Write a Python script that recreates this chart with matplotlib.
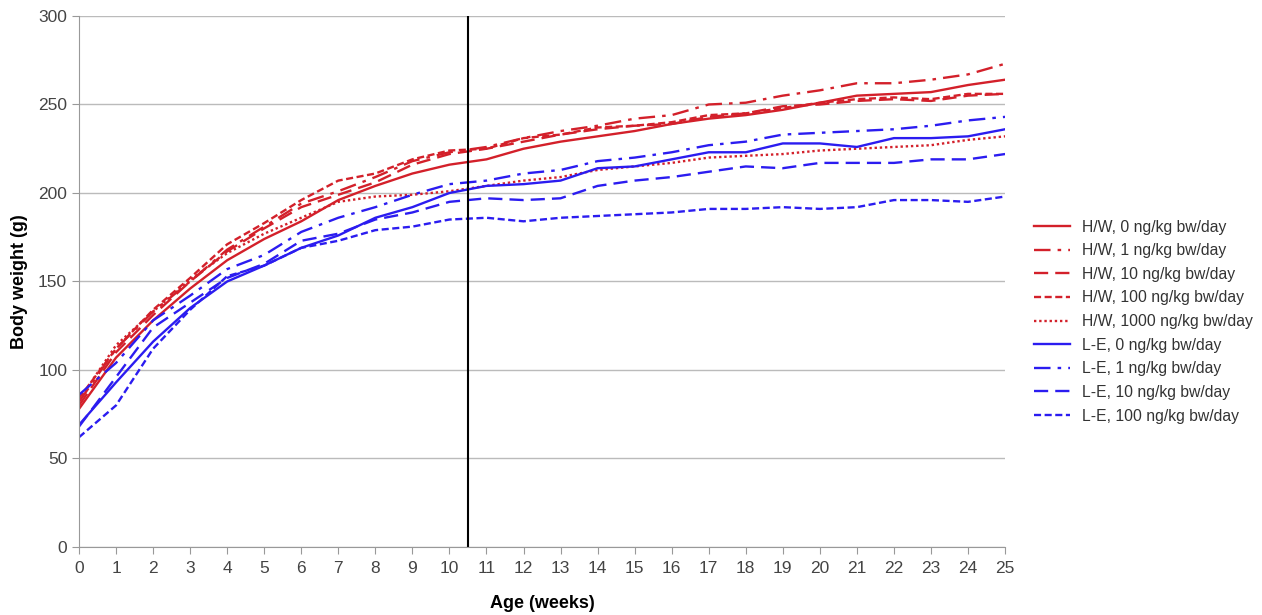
import numpy as np
import matplotlib
matplotlib.use('Agg')
from matplotlib import pyplot as plt

plt.rcParams['font.family'] = ['Liberation Sans', 'DejaVu Sans']

weeks = np.arange(0, 26)

# body weights (g)
hw_0 = [78, 107, 128, 146, 162, 174, 184, 196, 204, 211, 216, 219, 225, 229, 232, 235,
        239, 242, 244, 247, 251, 255, 256, 257, 261, 264]
hw_1 = [82, 112, 133, 150, 168, 181, 194, 201, 209, 218, 223, 226, 231, 235, 238, 242,
        244, 250, 251, 255, 258, 262, 262, 264, 267, 273]
hw_10 = [80, 110, 131, 150, 167, 180, 192, 199, 206, 216, 222, 225, 229, 233, 236, 238,
         239, 243, 245, 249, 250, 252, 253, 252, 255, 256]
hw_100 = [84, 112, 134, 152, 171, 183, 196, 207, 211, 219, 224, 225, 231, 233, 237, 238,
          240, 244, 245, 248, 251, 253, 254, 253, 256, 256]
hw_1000 = [83, 114, 133, 151, 166, 177, 186, 195, 198, 199, 201, 204, 207, 209, 213, 215,
           217, 220, 221, 222, 224, 225, 226, 227, 230, 232]
le_0 = [69, 93, 116, 135, 150, 159, 169, 176, 186, 192, 200, 204, 205, 207, 214, 215,
        219, 223, 223, 228, 228, 226, 231, 231, 232, 236]
le_1 = [86, 104, 128, 142, 157, 165, 178, 186, 192, 199, 205, 207, 211, 213, 218, 220,
        223, 227, 229, 233, 234, 235, 236, 238, 241, 243]
le_10 = [68, 96, 124, 138, 152, 160, 173, 177, 185, 189, 195, 197, 196, 197, 204, 207,
         209, 212, 215, 214, 217, 217, 217, 219, 219, 222]
le_100 = [62, 80, 112, 134, 153, 159, 169, 173, 179, 181, 185, 186, 184, 186, 187, 188,
          189, 191, 191, 192, 191, 192, 196, 196, 195, 198]

split_week = 10.5

red = '#d3202a'
blue = '#2b1cf0'

series = [
    ('H/W, 0 ng/kg bw/day', hw_0, red, '-'),
    ('H/W, 1 ng/kg bw/day', hw_1, red, (0, (7, 3, 1.5, 3))),
    ('H/W, 10 ng/kg bw/day', hw_10, red, (0, (6, 3))),
    ('H/W, 100 ng/kg bw/day', hw_100, red, (0, (3, 1.5))),
    ('H/W, 1000 ng/kg bw/day', hw_1000, red, (0, (1, 1.2))),
    ('L-E, 0 ng/kg bw/day', le_0, blue, '-'),
    ('L-E, 1 ng/kg bw/day', le_1, blue, (0, (7, 3, 1.5, 3))),
    ('L-E, 10 ng/kg bw/day', le_10, blue, (0, (6, 3))),
    ('L-E, 100 ng/kg bw/day', le_100, blue, (0, (3, 1.5))),
]

fig = plt.figure(figsize=(12.62, 6.15), dpi=100)
ax = fig.add_axes([0.0626, 0.1106, 0.7338, 0.8634])

for label, vals, col, ls in series:
    ax.plot(weeks, vals, color=col, linestyle=ls, linewidth=1.7, label=label)

ax.axvline(split_week, color='black', linewidth=1.5)

ax.set_xlim(0, 25)
ax.set_ylim(0, 300)
ax.set_xticks(range(0, 26))
ax.set_yticks(range(0, 301, 50))
ax.yaxis.grid(True, color='#bbbbbb', linewidth=1)
ax.set_axisbelow(True)
for s in ['top', 'right']:
    ax.spines[s].set_visible(False)
for s in ['left', 'bottom']:
    ax.spines[s].set_color('#999999')
ax.tick_params(axis='both', colors='#999999', labelcolor='#444444', labelsize=12.5)
ax.tick_params(axis='y', length=5)
ax.tick_params(axis='x', length=5, pad=5)

ax.set_xlabel('Age (weeks)', fontsize=13, fontweight='bold', labelpad=14)
ax.set_ylabel('Body weight (g)', fontsize=13, fontweight='bold', labelpad=7)

leg = fig.legend(loc='upper left', bbox_to_anchor=(0.808, 0.666), frameon=False,
                 fontsize=11.3, handlelength=2.3, labelspacing=0.55, handletextpad=0.8)
for t in leg.get_texts():
    t.set_color('#333333')

fig.savefig('out.png', dpi=100)
